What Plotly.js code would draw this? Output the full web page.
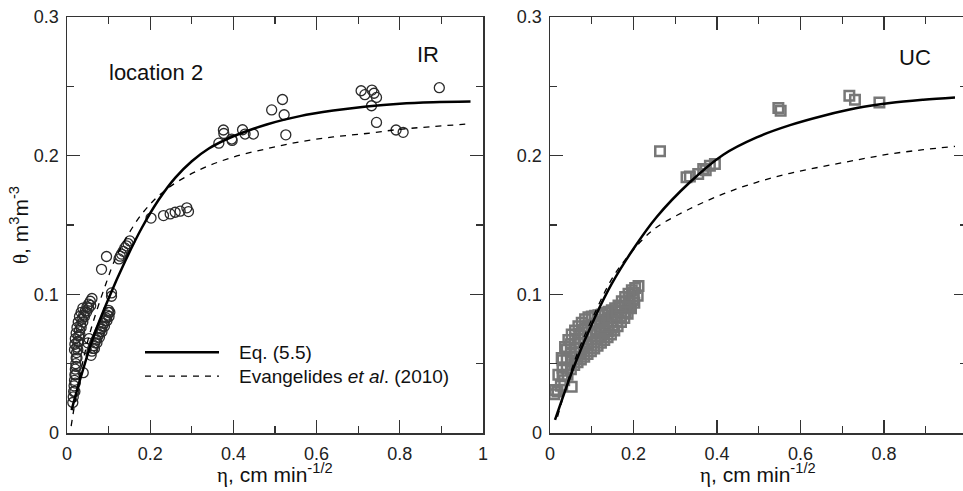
<!DOCTYPE html>
<html>
<head>
<meta charset="utf-8">
<script src="https://cdn.plot.ly/plotly-3.0.1.min.js"></script>
<style>
html,body{margin:0;padding:0;overflow:hidden;background:#fff;}
#chart{width:967px;height:491px;}
</style>
</head>
<body>
<div id="chart"></div>
<script>
// ---------- IR (location 2) measured points ----------
const irSparseX = [0.365,0.376,0.377,0.396,0.397,0.422,0.428,0.448,0.492,0.518,0.522,0.526,0.707,0.716,0.733,0.738,0.744,0.732,0.744,0.791,0.808,0.895,
  0.202,0.232,0.248,0.260,0.272,0.288,0.292,
  0.125,0.128,0.131,0.135,0.139,0.143,0.147,0.151,
  0.095,0.083,0.107,0.107,0.039];
const irSparseY = [0.209,0.2185,0.216,0.212,0.211,0.2187,0.2156,0.2156,0.233,0.2405,0.2295,0.215,0.2468,0.244,0.2473,0.245,0.242,0.236,0.224,0.2185,0.2168,0.249,
  0.155,0.1568,0.158,0.1592,0.160,0.1624,0.1597,
  0.1255,0.1275,0.129,0.131,0.1335,0.135,0.1365,0.1385,
  0.1273,0.118,0.101,0.0986,0.0435];
const irBranchAX = [0.014,0.015,0.016,0.017,0.018,0.019,0.020,0.021,0.022,0.023,0.024,0.026,0.028,0.030,0.033,0.036,0.040,0.044,0.048,0.052,0.056,0.060];
const irBranchAY = [0.022,0.026,0.030,0.034,0.038,0.042,0.046,0.050,0.054,0.058,0.062,0.066,0.070,0.074,0.078,0.082,0.085,0.088,0.091,0.093,0.095,0.097];
const irBranchBX = [0.018,0.019,0.020,0.022,0.024,0.027,0.030,0.034,0.038];
const irBranchBY = [0.060,0.064,0.068,0.072,0.076,0.080,0.084,0.087,0.090];
const irBranchDX = [0.019,0.020,0.021,0.022,0.024,0.026,0.028,0.031,0.034,0.038,0.042,0.047,0.052,0.057];
const irBranchDY = [0.030,0.036,0.042,0.048,0.054,0.060,0.066,0.071,0.076,0.080,0.084,0.087,0.090,0.092];
const irBranchCX = [0.058,0.060,0.062,0.064,0.067,0.070,0.073,0.076,0.079,0.082,0.085,0.088,0.091,0.094,0.097,0.099,0.100,
  0.066,0.072,0.078,0.084,0.090,0.096,0.101,0.103,0.046,0.050,0.053];
const irBranchCY = [0.056,0.059,0.061,0.063,0.065,0.067,0.069,0.071,0.073,0.075,0.077,0.079,0.081,0.083,0.085,0.087,0.0885,
  0.061,0.065,0.069,0.073,0.077,0.081,0.084,0.087,0.061,0.065,0.068];

// ---------- IR curves ----------
const irEqX = [0.011,0.030,0.063,0.100,0.140,0.180,0.220,0.260,0.300,0.340,0.400,0.480,0.560,0.640,0.720,0.800,0.880,0.970];
const irEqY = [0.0165,0.037,0.069,0.097,0.124,0.148,0.168,0.184,0.196,0.205,0.214,0.2225,0.2285,0.2325,0.2355,0.2375,0.2385,0.239];
const irEvX = [0.010,0.030,0.055,0.094,0.120,0.180,0.240,0.320,0.400,0.480,0.560,0.640,0.720,0.800,0.880,0.970];
const irEvY = [0.005,0.040,0.072,0.108,0.128,0.158,0.176,0.190,0.199,0.205,0.210,0.2135,0.216,0.219,0.221,0.223];

// ---------- UC measured points ----------
const ucSparseX = [0.2635,0.327,0.335,0.355,0.367,0.373,0.383,0.395,0.547,0.5525,0.717,0.7305,0.789,0.052];
const ucSparseY = [0.2031,0.1844,0.1849,0.1868,0.1904,0.1895,0.1928,0.194,0.2343,0.2324,0.2432,0.2403,0.2384,0.0333];
const ucUpperX = [0.012,0.020,0.028,0.036,0.044,0.052,0.060,0.068,0.076,0.084,0.092,0.100,0.108,0.116,0.124,0.132,0.140,0.148,0.156,0.164,0.172,0.180,0.188,0.196,0.204,0.212];
const ucUpperY = [0.031,0.042,0.054,0.062,0.067,0.071,0.074,0.077,0.0795,0.082,0.0835,0.084,0.0845,0.085,0.0855,0.0865,0.0875,0.0885,0.090,0.092,0.095,0.098,0.1005,0.103,0.1045,0.106];
const ucLowerX = [0.010,0.018,0.026,0.034,0.042,0.050,0.058,0.066,0.074,0.082,0.090,0.098,0.106,0.114,0.122,0.130,0.138,0.146,0.154,0.162,0.170,0.178,0.186,0.194,0.202,0.210];
const ucLowerY = [0.028,0.030,0.034,0.038,0.042,0.046,0.049,0.051,0.053,0.055,0.057,0.059,0.061,0.063,0.065,0.067,0.069,0.071,0.074,0.077,0.080,0.083,0.086,0.090,0.094,0.099];
const ucMidX = [0.03,0.04,0.05,0.06,0.07,0.08,0.09,0.10,0.11,0.12,0.13,0.14,0.15,0.16,0.17,0.18,0.19,0.20];
const ucMid1Y = [0.0415,0.047,0.052,0.055,0.058,0.061,0.0635,0.0655,0.0677,0.0697,0.072,0.0736,0.076,0.080,0.084,0.0873,0.0915,0.096];
const ucMid2Y = [0.047,0.0535,0.058,0.0615,0.065,0.068,0.070,0.072,0.0734,0.075,0.0767,0.078,0.080,0.084,0.0875,0.091,0.095,0.0985];
const ucMid3Y = [0.0525,0.060,0.064,0.068,0.0715,0.0745,0.077,0.078,0.079,0.080,0.0815,0.083,0.0848,0.088,0.091,0.0945,0.098,0.101];

// ---------- UC curves ----------
const ucEqX = [0.012,0.060,0.108,0.148,0.200,0.255,0.335,0.415,0.495,0.575,0.655,0.735,0.814,0.894,0.970];
const ucEqY = [0.0094,0.050,0.0837,0.1077,0.1329,0.1556,0.1808,0.2007,0.2132,0.222,0.2288,0.2343,0.2379,0.2403,0.242];
const ucEvX = [0.018,0.060,0.108,0.156,0.2196,0.2555,0.335,0.415,0.495,0.575,0.655,0.735,0.814,0.894,0.970];
const ucEvY = [0.0117,0.053,0.087,0.1149,0.1388,0.1484,0.1617,0.1724,0.1808,0.1873,0.1923,0.1969,0.2012,0.2043,0.2067];

// ---------- text ----------
const xTicksLeft = [0,0.2,0.4,0.6,0.8,1];
const xTicksRight = [0,0.2,0.4,0.6,0.8];
const yTicks = [0,0.1,0.2,0.3];
const legendNames = ['Eq. (5.5)', 'Evangelides <i>et al</i>. (2010)'];

const FONT = 'Liberation Sans, Arial, sans-serif';
const irX = [].concat(irSparseX, irBranchAX, irBranchBX, irBranchDX, irBranchCX);
const irY = [].concat(irSparseY, irBranchAY, irBranchBY, irBranchDY, irBranchCY);
const ucX = [].concat(ucSparseX, ucUpperX, ucLowerX, ucMidX, ucMidX, ucMidX);
const ucY = [].concat(ucSparseY, ucUpperY, ucLowerY, ucMid1Y, ucMid2Y, ucMid3Y);

const traces = [
  {x: irX, y: irY, xaxis:'x', yaxis:'y', mode:'markers', type:'scatter',
   marker:{symbol:'circle-open', size:10, color:'#2a2a2a', line:{width:1.3, color:'#2a2a2a'}}},
  {x: ucX, y: ucY, xaxis:'x2', yaxis:'y2', mode:'markers', type:'scatter',
   marker:{symbol:'square-open', size:9.5, color:'#777', line:{width:2.5, color:'#777'}}},
  {x: irEqX, y: irEqY, xaxis:'x', yaxis:'y', mode:'lines', line:{color:'#000', width:2.5, shape:'spline'}},
  {x: irEvX, y: irEvY, xaxis:'x', yaxis:'y', mode:'lines', line:{color:'#000', width:1.3, dash:'6px,6px', shape:'spline'}},
  {x: ucEqX, y: ucEqY, xaxis:'x2', yaxis:'y2', mode:'lines', line:{color:'#000', width:2.5, shape:'spline'}},
  {x: ucEvX, y: ucEvY, xaxis:'x2', yaxis:'y2', mode:'lines', line:{color:'#000', width:1.3, dash:'6px,6px', shape:'spline'}}
];

function xa(domain, range, ticks){
  return {domain:domain, range:range, tickvals:ticks, ticktext:ticks.map(String),
    ticks:'inside', ticklen:13, tickwidth:1.3, tickcolor:'#333',
    minor:{tickvals:[0.1,0.3,0.5,0.7,0.9], ticks:'inside', ticklen:7, tickwidth:1.3, tickcolor:'#333'},
    showline:true, linecolor:'#333', linewidth:1.5, mirror:'ticks',
    showgrid:false, zeroline:false, fixedrange:true,
    tickfont:{family:FONT, size:18, color:'#222'}, ticklabelstandoff:4};
}
function ya(anchor){
  return {domain:[0,1], range:[0,0.3], tickvals:yTicks, ticktext:yTicks.map(String), anchor:anchor,
    ticks:'inside', ticklen:13, tickwidth:1.3, tickcolor:'#333',
    minor:{tickvals:[0.05,0.15,0.25], ticks:'inside', ticklen:7, tickwidth:1.3, tickcolor:'#333'},
    showline:true, linecolor:'#333', linewidth:1.5, mirror:'ticks',
    showgrid:false, zeroline:false, fixedrange:true,
    tickfont:{family:FONT, size:18, color:'#222'}, ticklabelstandoff:3};
}

const xaxis = xa([0, 416/900], [0,1], xTicksLeft); xaxis.anchor='y';
const xaxis2 = xa([483/900, 1], [0,0.9988], xTicksRight); xaxis2.anchor='y2';

const ann = (x,y,xref,yref,text,size,opts) => Object.assign({x:x,y:y,xref:xref,yref:yref,text:text,showarrow:false,
  font:{family:FONT,size:size,color:'#111'}}, opts||{});

const layout = {
  width:967, height:491,
  margin:{l:67, r:0, t:17, b:58},
  paper_bgcolor:'#fff', plot_bgcolor:'#fff',
  showlegend:false,
  xaxis:xaxis, yaxis:ya('x'), xaxis2:xaxis2, yaxis2:ya('x2'),
  shapes:[
    {type:'line', xref:'x', yref:'y', x0:0.1875, x1:0.3654, y0:0.0583, y1:0.0583, line:{color:'#000', width:2.5}},
    {type:'line', xref:'x', yref:'y', x0:0.1875, x1:0.3654, y0:0.041, y1:0.041, line:{color:'#000', width:1.3, dash:'6px,6px'}}
  ],
  annotations:[
    ann(0.4087, 0.0583, 'x','y', legendNames[0], 19, {xanchor:'left', yanchor:'middle'}),
    ann(0.4087, 0.041, 'x','y', legendNames[1], 19, {xanchor:'left', yanchor:'middle'}),
    ann(0.096, 0.26, 'x','y', 'location 2', 22, {xanchor:'left', yanchor:'middle'}),
    ann(0.868, 0.273, 'x','y', 'IR', 22, {xanchor:'center', yanchor:'middle'}),
    ann(0.874, 0.271, 'x2','y2', 'UC', 22, {xanchor:'center', yanchor:'middle'}),
    ann(208/900, -40/416, 'paper','paper', '<span style="font-family:Liberation Serif">η</span>, cm min<sup>-1/2</sup>', 21, {xanchor:'center', yanchor:'middle'}),
    ann(691/900, -40/416, 'paper','paper', '<span style="font-family:Liberation Serif">η</span>, cm min<sup>-1/2</sup>', 21, {xanchor:'center', yanchor:'middle'}),
    ann(-48/900, 0.5, 'paper','paper', '<span style="font-family:Liberation Serif">θ</span>, m<sup>3</sup>m<sup>-3</sup>', 21, {xanchor:'center', yanchor:'middle', textangle:-90})
  ]
};

Plotly.newPlot('chart', traces, layout, {staticPlot:true, displayModeBar:false});
</script>
</body>
</html>
